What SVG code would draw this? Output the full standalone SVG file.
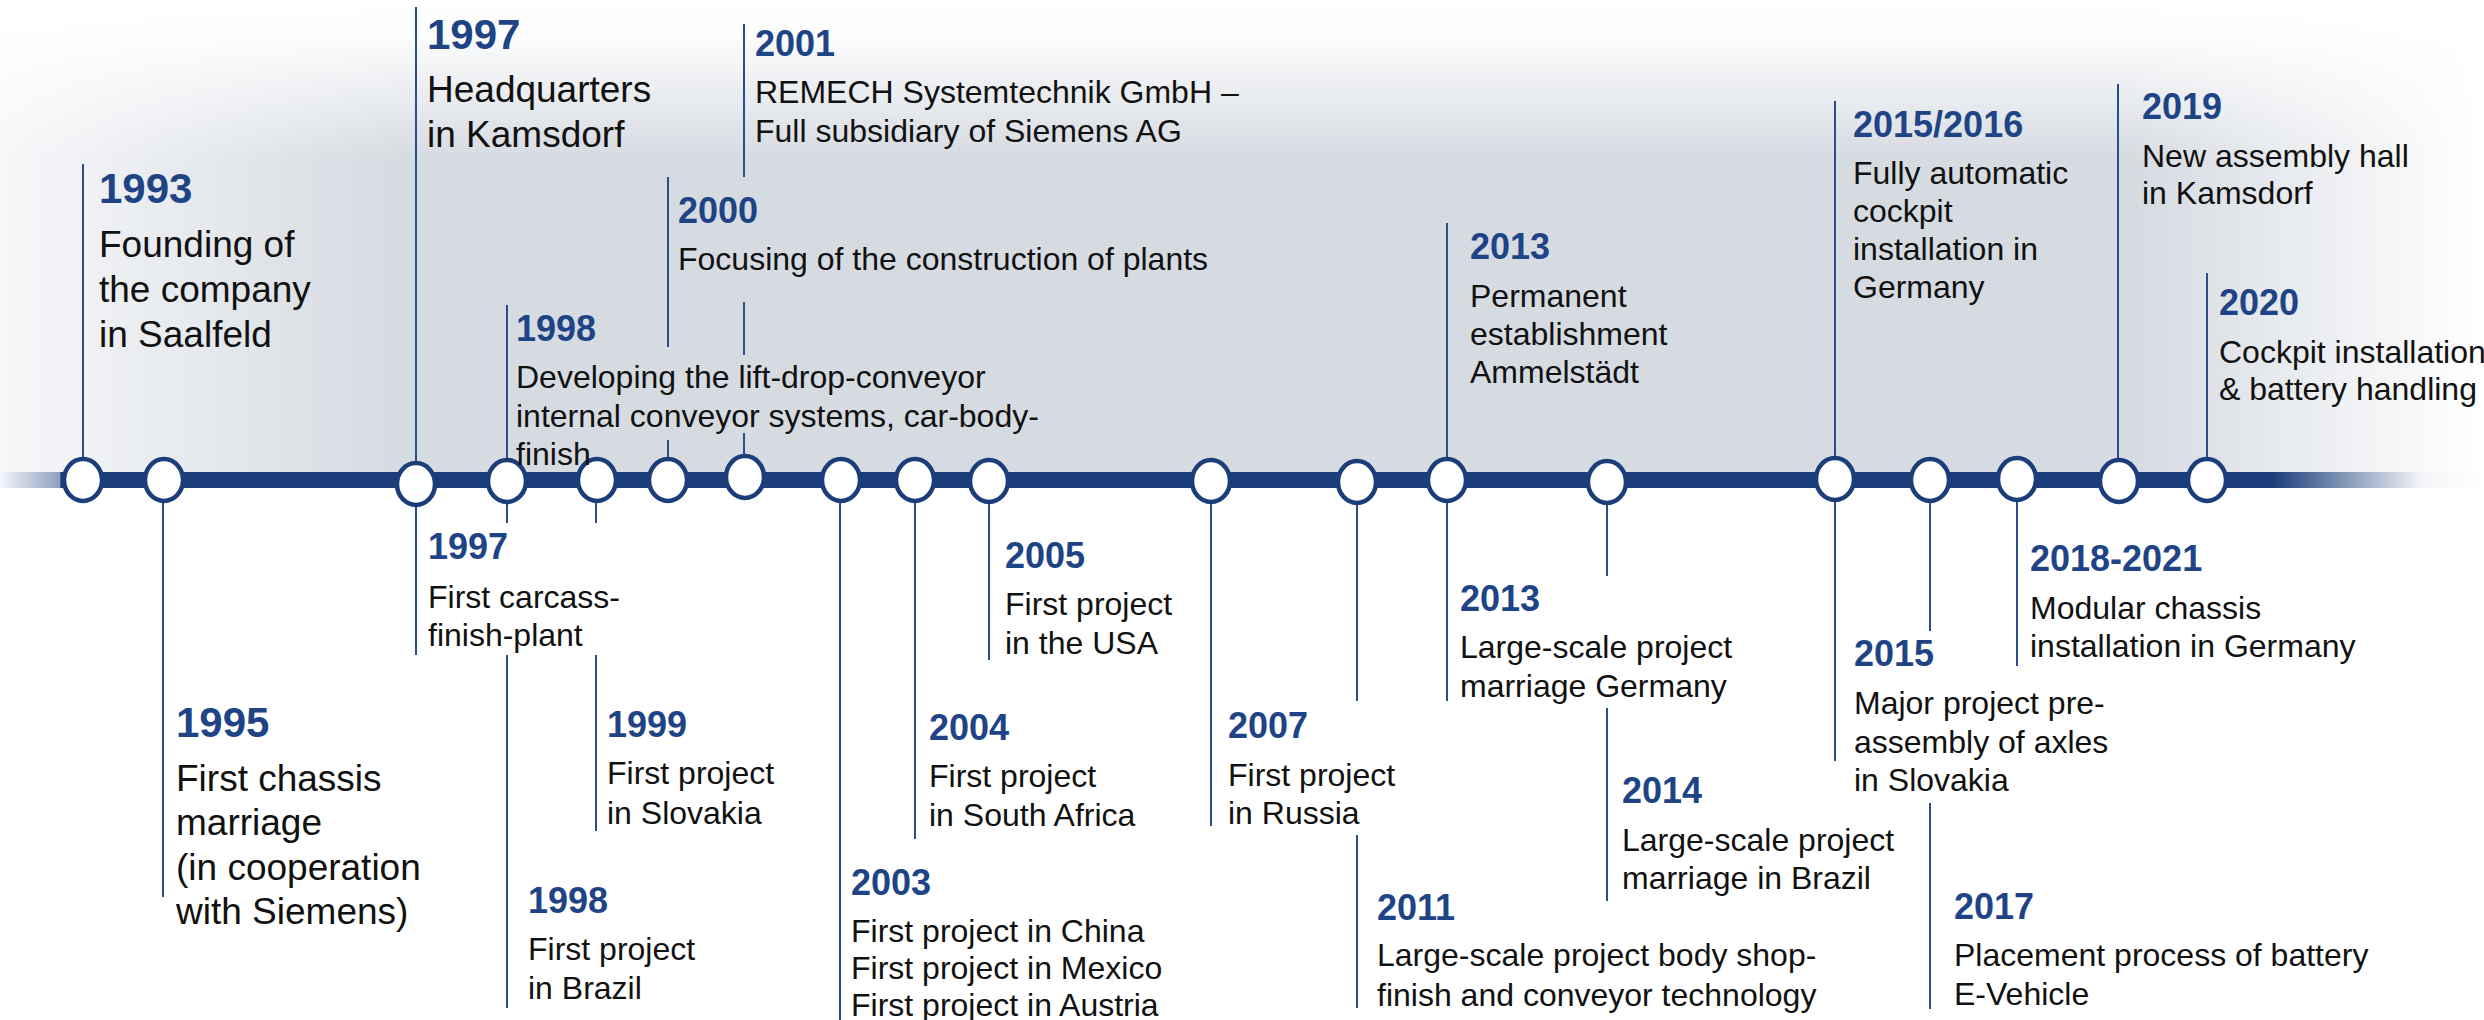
<svg xmlns="http://www.w3.org/2000/svg" width="2484" height="1020" viewBox="0 0 2484 1020">
<defs>
<linearGradient id="bgH" gradientUnits="userSpaceOnUse" x1="0" y1="0" x2="2484" y2="0">
<stop offset="0" stop-color="#f6f7f9"/>
<stop offset="0.16" stop-color="#d6dbe2"/>
<stop offset="0.86" stop-color="#d6dbe2"/>
<stop offset="1" stop-color="#ffffff"/>
</linearGradient>
<linearGradient id="bgV" gradientUnits="userSpaceOnUse" x1="0" y1="0" x2="0" y2="160">
<stop offset="0" stop-color="#ffffff" stop-opacity="1"/>
<stop offset="0.2" stop-color="#ffffff" stop-opacity="0.95"/>
<stop offset="1" stop-color="#ffffff" stop-opacity="0"/>
</linearGradient>
<linearGradient id="barG" gradientUnits="userSpaceOnUse" x1="0" y1="0" x2="2484" y2="0">
<stop offset="0" stop-color="#f4f6f9"/>
<stop offset="0.024" stop-color="#8fa1be"/>
<stop offset="0.0245" stop-color="#1b3e7a"/>
<stop offset="0.915" stop-color="#1b3e7a"/>
<stop offset="0.975" stop-color="#f3f5f8"/>
<stop offset="1" stop-color="#ffffff"/>
</linearGradient>
<style>
.yr{font-family:"Liberation Sans",Arial,sans-serif;font-weight:bold;font-size:36px;fill:#1e4486}
.yrL{font-family:"Liberation Sans",Arial,sans-serif;font-weight:bold;font-size:42px;fill:#1e4486}
.d{font-family:"Liberation Sans",Arial,sans-serif;font-size:32px;fill:#111111}
.dL{font-family:"Liberation Sans",Arial,sans-serif;font-size:37px;fill:#111111}
.ln{stroke:#2a4e8c;stroke-width:2;fill:none}
.nd{fill:#ffffff;stroke:#1b3e7a;stroke-width:4.5}
</style>
</defs>

<g id="background">
<rect x="0" y="0" width="2484" height="488" fill="url(#bgH)"/>
<rect x="0" y="0" width="2484" height="160" fill="url(#bgV)"/>
</g>

<g id="connectors">
<line class="ln" x1="83" y1="164" x2="83" y2="460"/>
<line class="ln" x1="416" y1="7" x2="416" y2="463"/>
<line class="ln" x1="507" y1="305" x2="507" y2="460"/>
<line class="ln" x1="668" y1="177" x2="668" y2="347"/>
<line class="ln" x1="668" y1="440" x2="668" y2="459"/>
<line class="ln" x1="744" y1="24" x2="744" y2="177"/>
<line class="ln" x1="744" y1="302" x2="744" y2="355"/>
<line class="ln" x1="744" y1="433" x2="744" y2="457"/>
<line class="ln" x1="1447" y1="223" x2="1447" y2="460"/>
<line class="ln" x1="1835" y1="101" x2="1835" y2="459"/>
<line class="ln" x1="2118" y1="84" x2="2118" y2="460"/>
<line class="ln" x1="2207" y1="273" x2="2207" y2="459"/>
<line class="ln" x1="163" y1="500" x2="163" y2="897"/>
<line class="ln" x1="416" y1="505" x2="416" y2="655"/>
<line class="ln" x1="507" y1="502" x2="507" y2="523"/>
<line class="ln" x1="507" y1="655" x2="507" y2="1008"/>
<line class="ln" x1="596" y1="500" x2="596" y2="523"/>
<line class="ln" x1="596" y1="655" x2="596" y2="831"/>
<line class="ln" x1="840" y1="500" x2="840" y2="1020"/>
<line class="ln" x1="915" y1="500" x2="915" y2="839"/>
<line class="ln" x1="989" y1="501" x2="989" y2="660"/>
<line class="ln" x1="1211" y1="501" x2="1211" y2="826"/>
<line class="ln" x1="1357" y1="502" x2="1357" y2="701"/>
<line class="ln" x1="1357" y1="835" x2="1357" y2="1008"/>
<line class="ln" x1="1447" y1="500" x2="1447" y2="701"/>
<line class="ln" x1="1607" y1="502" x2="1607" y2="576"/>
<line class="ln" x1="1607" y1="708" x2="1607" y2="901"/>
<line class="ln" x1="1835" y1="500" x2="1835" y2="761"/>
<line class="ln" x1="1930" y1="500" x2="1930" y2="631"/>
<line class="ln" x1="1930" y1="803" x2="1930" y2="1009"/>
<line class="ln" x1="2017" y1="500" x2="2017" y2="666"/>
</g>

<g id="timeline">
<rect x="0" y="472" width="2484" height="16" fill="url(#barG)"/>
</g>

<g id="node-markers">
<ellipse class="nd" cx="83" cy="480" rx="19" ry="21"/>
<ellipse class="nd" cx="164" cy="480" rx="19" ry="21"/>
<ellipse class="nd" cx="416" cy="484" rx="19" ry="21"/>
<ellipse class="nd" cx="507" cy="481" rx="19" ry="21"/>
<ellipse class="nd" cx="597" cy="480" rx="19" ry="21"/>
<ellipse class="nd" cx="668" cy="480" rx="19" ry="21"/>
<ellipse class="nd" cx="745" cy="477" rx="19" ry="21"/>
<ellipse class="nd" cx="841" cy="480" rx="19" ry="21"/>
<ellipse class="nd" cx="915" cy="480" rx="19" ry="21"/>
<ellipse class="nd" cx="989" cy="481" rx="19" ry="21"/>
<ellipse class="nd" cx="1211" cy="481" rx="19" ry="21"/>
<ellipse class="nd" cx="1357" cy="482" rx="19" ry="21"/>
<ellipse class="nd" cx="1447" cy="480" rx="19" ry="21"/>
<ellipse class="nd" cx="1607" cy="482" rx="19" ry="21"/>
<ellipse class="nd" cx="1835" cy="479" rx="19" ry="21"/>
<ellipse class="nd" cx="1930" cy="480" rx="19" ry="21"/>
<ellipse class="nd" cx="2017" cy="479" rx="19" ry="21"/>
<ellipse class="nd" cx="2119" cy="481" rx="19" ry="21"/>
<ellipse class="nd" cx="2207" cy="480" rx="19" ry="21"/>
</g>

<g id="e1993">
<text class="yrL" x="99" y="203">1993</text>
<text class="dL" x="99" y="257">Founding of</text>
<text class="dL" x="99" y="302">the company</text>
<text class="dL" x="99" y="347">in Saalfeld</text>
</g>
<g id="e1997-hq">
<text class="yrL" x="427" y="49">1997</text>
<text class="dL" x="427" y="102">Headquarters</text>
<text class="dL" x="427" y="147">in Kamsdorf</text>
</g>
<g id="e1998-ldc">
<text class="yr" x="516" y="341">1998</text>
<text class="d" x="516" y="388">Developing the lift-drop-conveyor</text>
<text class="d" x="516" y="427">internal conveyor systems, car-body-</text>
<text class="d" x="516" y="465">finish</text>
</g>
<g id="e2000">
<text class="yr" x="678" y="223">2000</text>
<text class="d" x="678" y="270">Focusing of the construction of plants</text>
</g>
<g id="e2001">
<text class="yr" x="755" y="56">2001</text>
<text class="d" x="755" y="103">REMECH Systemtechnik GmbH –</text>
<text class="d" x="755" y="142">Full subsidiary of Siemens AG</text>
</g>
<g id="e2013-ammel">
<text class="yr" x="1470" y="259">2013</text>
<text class="d" x="1470" y="307">Permanent</text>
<text class="d" x="1470" y="345">establishment</text>
<text class="d" x="1470" y="383">Ammelstädt</text>
</g>
<g id="e2015-2016">
<text class="yr" x="1853" y="137">2015/2016</text>
<text class="d" x="1853" y="184">Fully automatic</text>
<text class="d" x="1853" y="222">cockpit</text>
<text class="d" x="1853" y="260">installation in</text>
<text class="d" x="1853" y="298">Germany</text>
</g>
<g id="e2019">
<text class="yr" x="2142" y="119">2019</text>
<text class="d" x="2142" y="167">New assembly hall</text>
<text class="d" x="2142" y="204">in Kamsdorf</text>
</g>
<g id="e2020">
<text class="yr" x="2219" y="315">2020</text>
<text class="d" x="2219" y="363">Cockpit installation</text>
<text class="d" x="2219" y="400">&amp; battery handling</text>
</g>

<g id="e1995">
<text class="yrL" x="176" y="737">1995</text>
<text class="dL" x="176" y="791">First chassis</text>
<text class="dL" x="176" y="835">marriage</text>
<text class="dL" x="176" y="880">(in cooperation</text>
<text class="dL" x="176" y="924">with Siemens)</text>
</g>
<g id="e1997-carcass">
<text class="yr" x="428" y="559">1997</text>
<text class="d" x="428" y="608">First carcass-</text>
<text class="d" x="428" y="646">finish-plant</text>
</g>
<g id="e1998-brazil">
<text class="yr" x="528" y="913">1998</text>
<text class="d" x="528" y="960">First project</text>
<text class="d" x="528" y="999">in Brazil</text>
</g>
<g id="e1999">
<text class="yr" x="607" y="737">1999</text>
<text class="d" x="607" y="784">First project</text>
<text class="d" x="607" y="824">in Slovakia</text>
</g>
<g id="e2003">
<text class="yr" x="851" y="895">2003</text>
<text class="d" x="851" y="942">First project in China</text>
<text class="d" x="851" y="979">First project in Mexico</text>
<text class="d" x="851" y="1016">First project in Austria</text>
</g>
<g id="e2004">
<text class="yr" x="929" y="740">2004</text>
<text class="d" x="929" y="787">First project</text>
<text class="d" x="929" y="826">in South Africa</text>
</g>
<g id="e2005">
<text class="yr" x="1005" y="568">2005</text>
<text class="d" x="1005" y="615">First project</text>
<text class="d" x="1005" y="654">in the USA</text>
</g>
<g id="e2007">
<text class="yr" x="1228" y="738">2007</text>
<text class="d" x="1228" y="786">First project</text>
<text class="d" x="1228" y="824">in Russia</text>
</g>
<g id="e2011">
<text class="yr" x="1377" y="920">2011</text>
<text class="d" x="1377" y="966">Large-scale project body shop-</text>
<text class="d" x="1377" y="1006">finish and conveyor technology</text>
</g>
<g id="e2013-germany">
<text class="yr" x="1460" y="611">2013</text>
<text class="d" x="1460" y="658">Large-scale project</text>
<text class="d" x="1460" y="697">marriage Germany</text>
</g>
<g id="e2014">
<text class="yr" x="1622" y="803">2014</text>
<text class="d" x="1622" y="851">Large-scale project</text>
<text class="d" x="1622" y="889">marriage in Brazil</text>
</g>
<g id="e2015">
<text class="yr" x="1854" y="666">2015</text>
<text class="d" x="1854" y="714">Major project pre-</text>
<text class="d" x="1854" y="753">assembly of axles</text>
<text class="d" x="1854" y="791">in Slovakia</text>
</g>
<g id="e2017">
<text class="yr" x="1954" y="919">2017</text>
<text class="d" x="1954" y="966">Placement process of battery</text>
<text class="d" x="1954" y="1005">E-Vehicle</text>
</g>
<g id="e2018-2021">
<text class="yr" x="2030" y="571">2018-2021</text>
<text class="d" x="2030" y="619">Modular chassis</text>
<text class="d" x="2030" y="657">installation in Germany</text>
</g>
</svg>
